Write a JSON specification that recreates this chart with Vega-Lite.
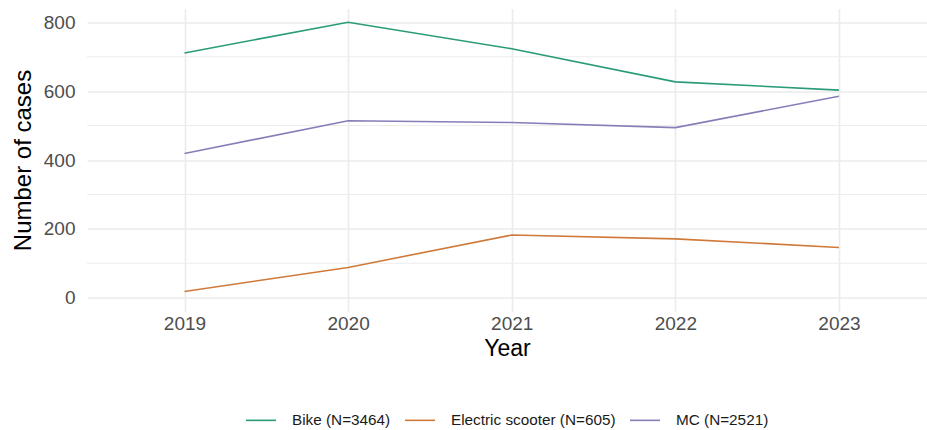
{
  "$schema": "https://vega.github.io/schema/vega-lite/v6.json",
  "autosize": "none",
  "width": 840,
  "height": 303,
  "padding": {"left": 87, "top": 8.5, "right": 0, "bottom": 118.5},
  "background": "white",
  "config": {
    "view": {"stroke": null},
    "font": "Liberation Sans",
    "axis": {
      "domain": false,
      "ticks": false,
      "gridColor": "#ebebeb",
      "gridWidth": 1.6,
      "labelFont": "Liberation Sans",
      "titleFont": "Liberation Sans",
      "labelColor": "#4d4d4d",
      "titleColor": "#000000",
      "titleFontWeight": "normal"
    }
  },
  "layer": [
    {
      "data": {"values": [{"v": 100}, {"v": 300}, {"v": 500}, {"v": 700}]},
      "mark": {"type": "rule", "color": "#ededed", "strokeWidth": 1.1},
      "encoding": {
        "y": {"field": "v", "type": "quantitative", "scale": {"domain": [-40, 840]}}
      }
    },
    {
      "data": {
        "values": [
          {"year": 2019, "type": "Bike (N=3464)", "cases": 711},
          {"year": 2020, "type": "Bike (N=3464)", "cases": 800},
          {"year": 2021, "type": "Bike (N=3464)", "cases": 723},
          {"year": 2022, "type": "Bike (N=3464)", "cases": 627},
          {"year": 2023, "type": "Bike (N=3464)", "cases": 603},
          {"year": 2019, "type": "Electric scooter (N=605)", "cases": 18},
          {"year": 2020, "type": "Electric scooter (N=605)", "cases": 88},
          {"year": 2021, "type": "Electric scooter (N=605)", "cases": 182},
          {"year": 2022, "type": "Electric scooter (N=605)", "cases": 171},
          {"year": 2023, "type": "Electric scooter (N=605)", "cases": 146},
          {"year": 2019, "type": "MC (N=2521)", "cases": 419},
          {"year": 2020, "type": "MC (N=2521)", "cases": 514},
          {"year": 2021, "type": "MC (N=2521)", "cases": 509},
          {"year": 2022, "type": "MC (N=2521)", "cases": 494},
          {"year": 2023, "type": "MC (N=2521)", "cases": 585}
        ]
      },
      "mark": {"type": "line", "strokeWidth": 1.6},
      "encoding": {
        "x": {
          "field": "year",
          "type": "quantitative",
          "scale": {"domain": [2018.404, 2023.538], "nice": false, "zero": false},
          "axis": {
            "values": [2019, 2020, 2021, 2022, 2023],
            "format": "d",
            "title": "Year",
            "labelFontSize": 19,
            "titleFontSize": 23,
            "labelPadding": 3,
            "titlePadding": 4
          }
        },
        "y": {
          "field": "cases",
          "type": "quantitative",
          "scale": {"domain": [-40, 840], "nice": false, "zero": false},
          "axis": {
            "values": [0, 200, 400, 600, 800],
            "title": "Number of cases",
            "labelFontSize": 19,
            "titleFontSize": 24,
            "labelPadding": 12,
            "titlePadding": 8
          }
        },
        "color": {
          "field": "type",
          "type": "nominal",
          "scale": {
            "domain": ["Bike (N=3464)", "Electric scooter (N=605)", "MC (N=2521)"],
            "range": ["#2a9b7a", "#d07a3a", "#857fb8"]
          },
          "legend": {
            "title": null,
            "orient": "none",
            "direction": "horizontal",
            "legendX": 158,
            "legendY": 395.5,
            "symbolType": "stroke",
            "symbolSize": 900,
            "symbolStrokeWidth": 1.6,
            "labelFont": "Liberation Sans",
            "labelFontSize": 15.3,
            "labelColor": "#1a1a1a",
            "labelLimit": 400,
            "labelOffset": 15,
            "columnPadding": 10
          }
        }
      }
    }
  ]
}
